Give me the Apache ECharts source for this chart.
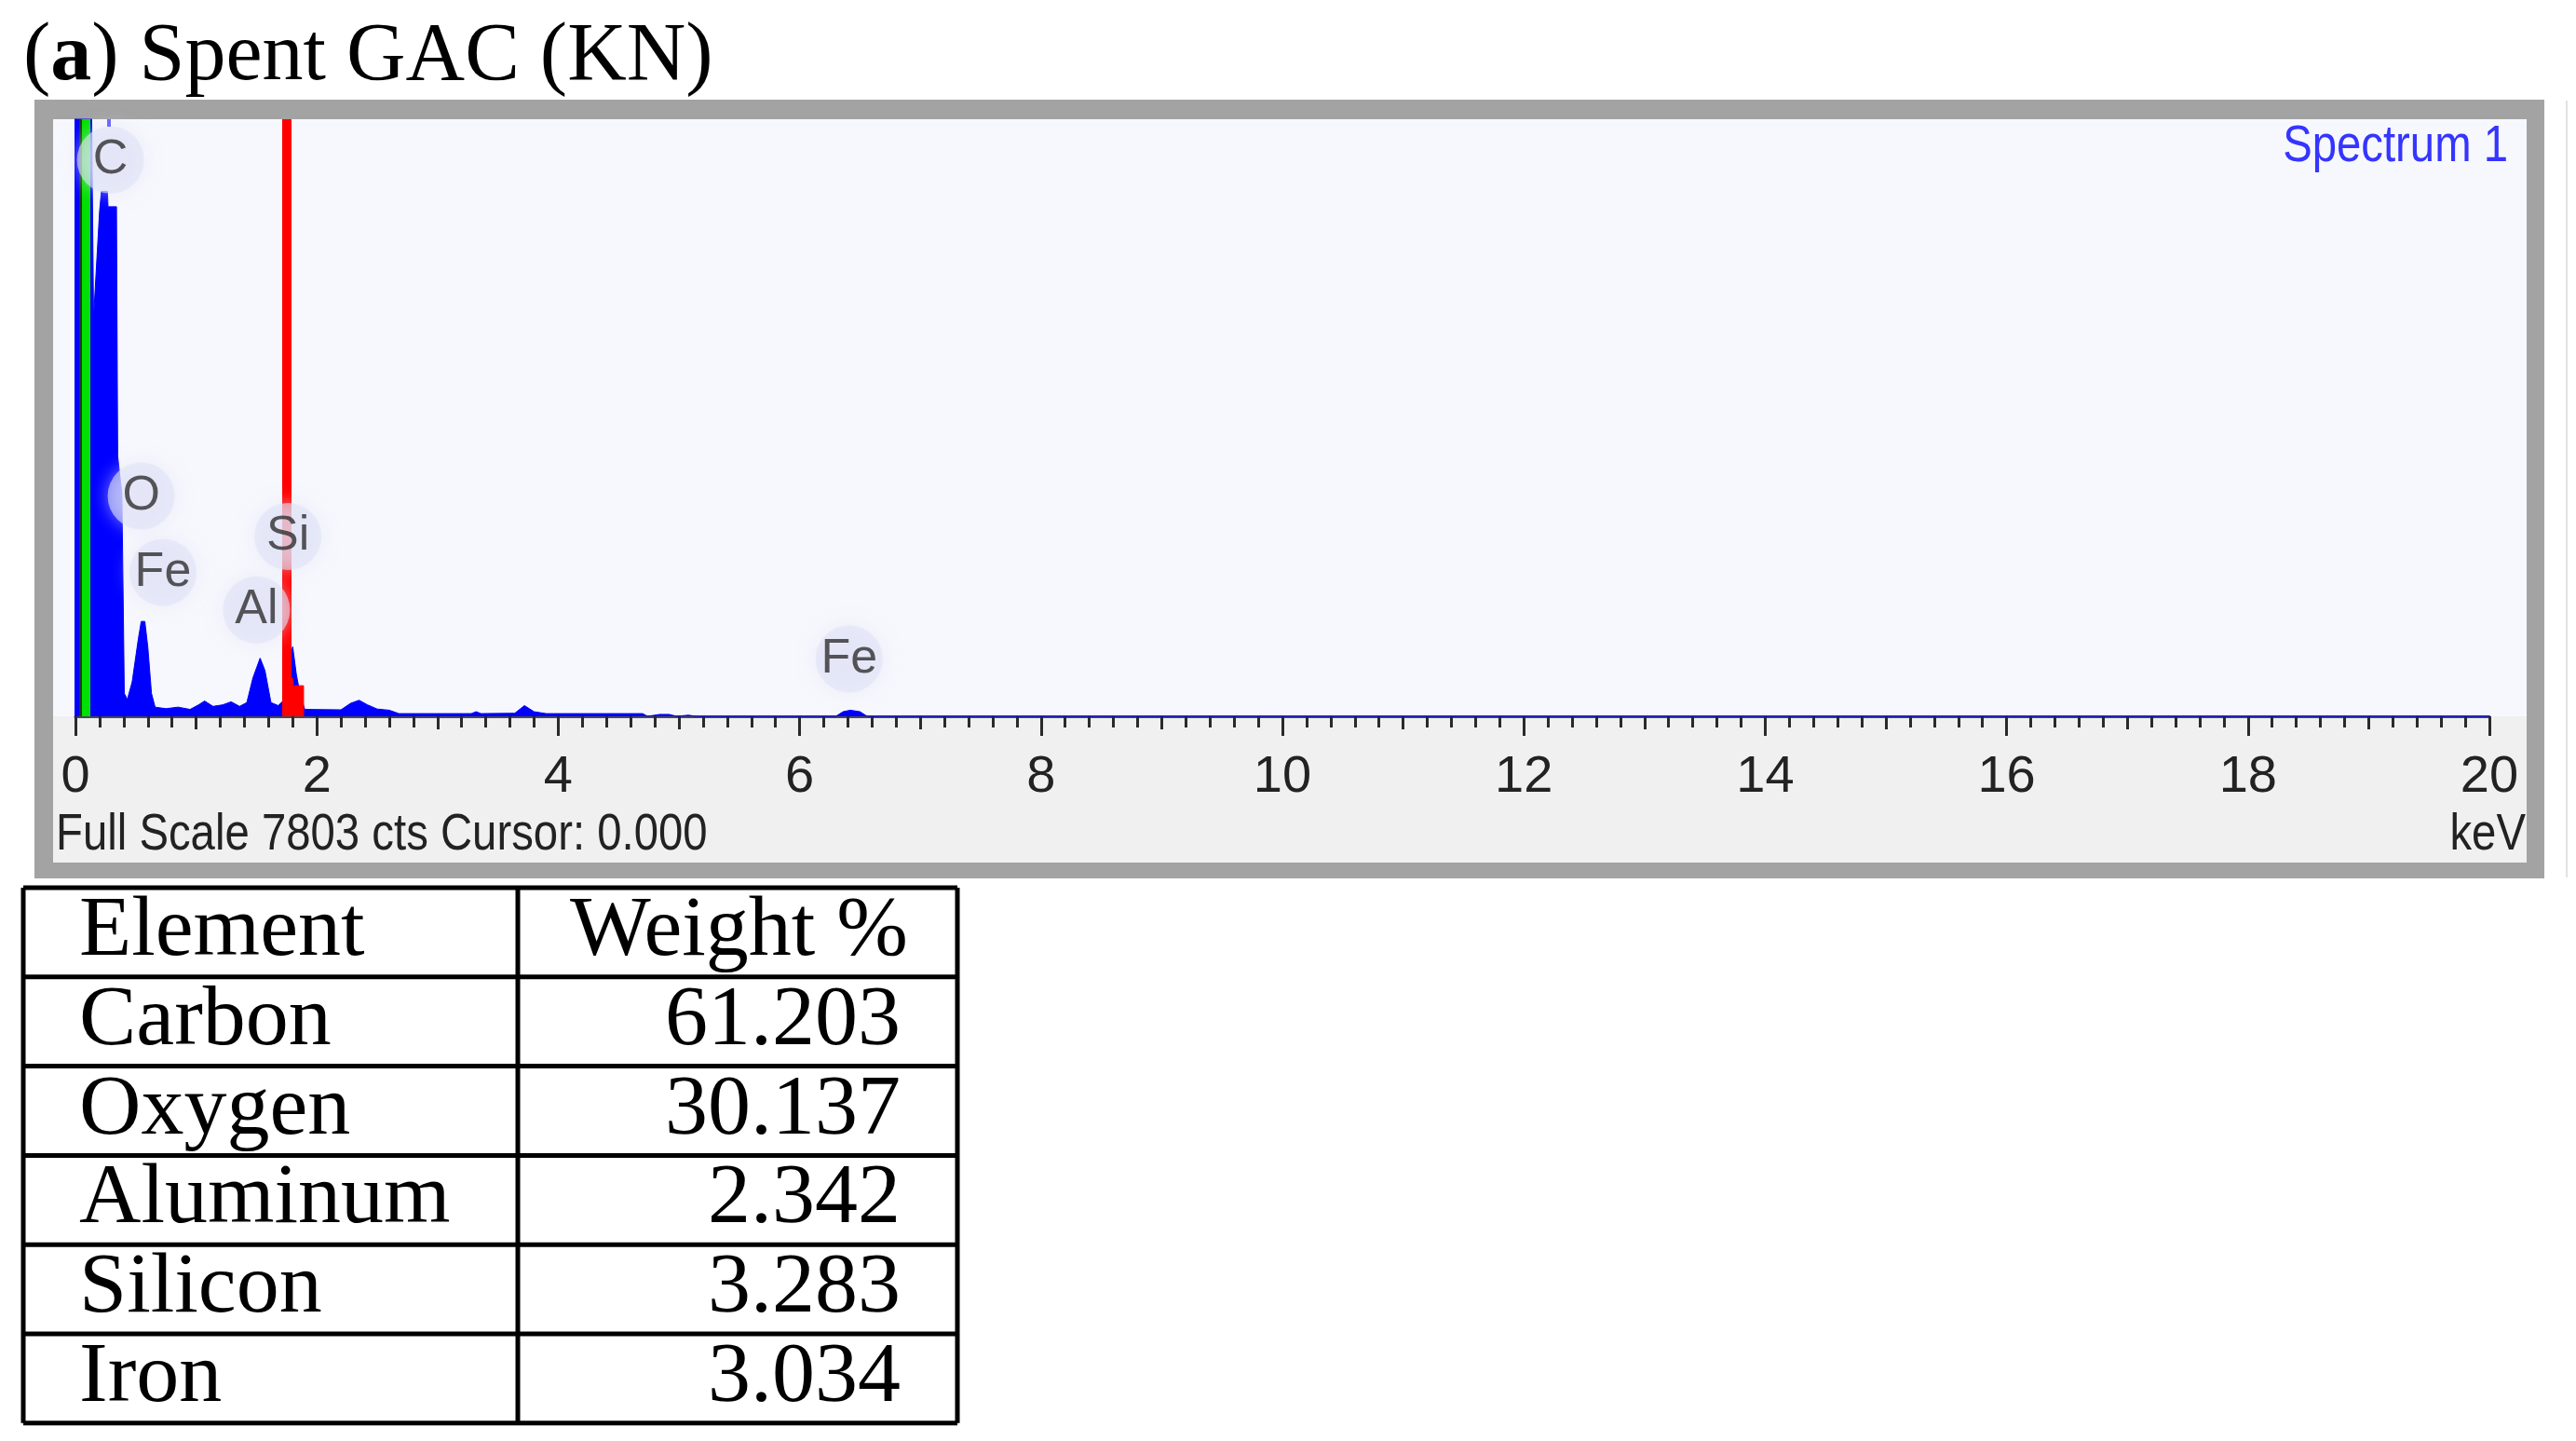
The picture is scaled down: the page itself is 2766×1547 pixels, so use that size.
<!DOCTYPE html>
<html>
<head>
<meta charset="utf-8">
<script src="https://cdn.jsdelivr.net/npm/echarts@6/dist/echarts.min.js"></script>
<style>
  html, body { margin: 0; padding: 0; background: #fff; }
  #chart { width: 2766px; height: 1547px; }
</style>
</head>
<body>
<div id="chart"></div>
<script>
// EDS spectrum: [keV, counts]
const spectrumPoints = [
  [-0.075, 0], [-0.07, 250], [-0.05, 450], [-0.04, 7803], [0.135, 7803], [0.15, 5200],
  [0.2, 6600], [0.215, 6860], [0.265, 6860], [0.27, 6660], [0.34, 6660], [0.35, 3400],
  [0.385, 2900], [0.405, 300], [0.43, 220], [0.47, 450], [0.52, 1000], [0.545, 1240],
  [0.575, 1240], [0.6, 900], [0.63, 300], [0.66, 120], [0.75, 100], [0.85, 120],
  [0.95, 90], [1.02, 150], [1.07, 200], [1.14, 130], [1.22, 150], [1.29, 190],
  [1.36, 130], [1.42, 180], [1.47, 500], [1.53, 760], [1.57, 600], [1.62, 180],
  [1.68, 140], [1.72, 200], [1.77, 700], [1.8, 910], [1.83, 550], [1.86, 300],
  [1.9, 90], [2.2, 85], [2.28, 170], [2.35, 210], [2.42, 150], [2.5, 95],
  [2.6, 80], [2.68, 35], [3.28, 35], [3.32, 60], [3.36, 35], [3.64, 40],
  [3.72, 140], [3.8, 60], [3.9, 35], [4.7, 35], [4.74, 0], [4.84, 25],
  [4.92, 25], [4.98, 0], [5.08, 15], [5.14, 0], [6.3, 0], [6.36, 60],
  [6.42, 80], [6.5, 60], [6.56, 0], [20, 0]
];
// red window under the Si line
const siWindow = [[1.72, 0], [1.72, 500], [1.8, 500], [1.8, 400], [1.89, 400], [1.89, 0]];

const peakNames = ['C', 'O', 'Fe', 'Al', 'Si', 'Fe'];
const peakKeV = [0.29, 0.545, 0.725, 1.5, 1.76, 6.41];
const peakCounts = [7270, 2880, 1880, 1390, 2350, 750];

const xTicks = [0, 2, 4, 6, 8, 10, 12, 14, 16, 18, 20];
const fullScale = 7803;
const cursorKeV = 0.09;
const markerKeV = 1.75;

const tableHeader = ['Element', 'Weight %'];
const elements = ['Carbon', 'Oxygen', 'Aluminum', 'Silicon', 'Iron'];
const weights = ['61.203', '30.137', '2.342', '3.283', '3.034'];

const narrow = "'Liberation Sans Narrow', 'Arial Narrow', 'Liberation Sans', sans-serif";
const serif = "'Liberation Serif', 'Times New Roman', serif";

// table graphics
const tLeft = 25, tMid = 556, tRight = 1028, tTop = 953, rowH = 95.8;
const tableGraphics = [];
const rows = [tableHeader].concat(elements.map((e, i) => [e, weights[i]]));
rows.forEach((r, i) => {
  const cy = tTop + rowH * (i + 0.5);
  tableGraphics.push({
    type: 'text', x: 85, y: cy, z: 20,
    style: { text: r[0], font: '92px ' + serif, fill: '#000', textVerticalAlign: 'middle' }
  });
  tableGraphics.push({
    type: 'text', x: i === 0 ? 975 : 967, y: cy, z: 20,
    style: { text: r[1], font: '92px ' + serif, fill: '#000', textAlign: 'right', textVerticalAlign: 'middle' }
  });
});
for (let i = 0; i <= rows.length; i++) {
  const y = tTop + rowH * i;
  tableGraphics.push({ type: 'line', z: 20, shape: { x1: tLeft, y1: y, x2: tRight, y2: y }, style: { stroke: '#000', lineWidth: 5 } });
}
[tLeft, tMid, tRight].forEach(x => {
  tableGraphics.push({ type: 'line', z: 20, shape: { x1: x, y1: tTop, x2: x, y2: tTop + rowH * rows.length }, style: { stroke: '#000', lineWidth: 5 } });
});

const chart = echarts.init(document.getElementById('chart'));
chart.setOption({
  animation: false,
  backgroundColor: '#ffffff',
  graphic: [
    // instrument window frame
    { type: 'rect', z: -10, shape: { x: 37, y: 107, width: 2695, height: 836 }, style: { fill: '#a3a3a3' } },
    { type: 'rect', z: -9, shape: { x: 57, y: 128, width: 2656, height: 798 }, style: { fill: '#f0f0f0' } },
    { type: 'rect', z: -8, shape: { x: 57, y: 128, width: 2656, height: 641 }, style: { fill: '#f7f8fd' } },
    { type: 'line', z: -8, shape: { x1: 2756, y1: 108, x2: 2756, y2: 942 }, style: { stroke: '#e2e2e2', lineWidth: 2 } },
    // small blue marker above the C line
    { type: 'rect', z: 6, shape: { x: 115, y: 128, width: 4, height: 8 }, style: { fill: '#6b6bff' } },
    {
      type: 'text', z: 20, x: 25, y: 62,
      style: {
        text: '{p|(}{b|a}{p|) Spent GAC (KN)}',
        textVerticalAlign: 'middle',
        rich: {
          p: { fontFamily: serif, fontSize: 88, color: '#000' },
          b: { fontFamily: serif, fontSize: 88, fontWeight: 'bold', color: '#000' }
        }
      }
    },
    {
      type: 'text', z: 20, x: 2693, y: 158, scaleX: 0.86,
      style: { text: 'Spectrum 1', font: '55px ' + narrow, fill: '#3535ff', textAlign: 'right', textVerticalAlign: 'middle' }
    },
    {
      type: 'text', z: 20, x: 60, y: 897, scaleX: 0.845,
      style: { text: 'Full Scale ' + fullScale + ' cts Cursor: 0.000', font: '56px ' + narrow, fill: '#222', textVerticalAlign: 'middle' }
    },
    {
      type: 'text', z: 20, x: 2712, y: 897, scaleX: 0.845,
      style: { text: 'keV', font: '56px ' + narrow, fill: '#222', textAlign: 'right', textVerticalAlign: 'middle' }
    }
  ].concat(tableGraphics),
  grid: { left: 81, right: 93, top: 128, bottom: 778 },
  xAxis: [
    {
      type: 'value', min: 0, max: 20, interval: 1,
      axisLine: { show: true, onZero: false, lineStyle: { color: '#4a4a4a', width: 3 } },
      axisTick: { show: true, length: 14, lineStyle: { color: '#2a2a2a', width: 3 } },
      minorTick: { show: true, splitNumber: 5, length: 12, lineStyle: { color: '#2a2a2a', width: 3 } },
      splitLine: { show: false },
      axisLabel: {
        margin: 38, fontSize: 56, fontFamily: narrow, color: '#222',
        formatter: v => (xTicks.indexOf(v) >= 0 ? String(v) : '')
      }
    },
    {
      type: 'value', min: 0, max: 20, interval: 2, position: 'bottom',
      axisLine: { show: false },
      axisTick: { show: true, length: 21, lineStyle: { color: '#2a2a2a', width: 3 } },
      axisLabel: { show: false },
      splitLine: { show: false }
    }
  ],
  yAxis: { type: 'value', min: 0, max: fullScale, show: false, splitLine: { show: false } },
  series: [
    {
      type: 'line', xAxisIndex: 0, data: spectrumPoints, showSymbol: false, clip: false, z: 3,
      lineStyle: { color: '#0000ff', width: 1 },
      areaStyle: { color: '#0000ff', opacity: 1 }
    },
    {
      type: 'line', xAxisIndex: 0, data: siWindow, showSymbol: false, z: 4,
      lineStyle: { color: '#ff0000', width: 1 },
      areaStyle: { color: '#ff0000', opacity: 1 },
      markLine: {
        silent: true, symbol: 'none', label: { show: false },
        data: [
          { xAxis: markerKeV, lineStyle: { color: '#ff0000', width: 10, type: 'solid' } },
          { xAxis: 0.04, lineStyle: { color: '#1f3a1f', width: 3, type: 'solid' } },
          { xAxis: cursorKeV, lineStyle: { color: '#00e000', width: 9, type: 'solid' } }
        ]
      }
    },
    {
      type: 'scatter', xAxisIndex: 0, z: 5, symbol: 'circle', symbolSize: 72,
      data: peakNames.map((n, i) => ({ name: n, value: [peakKeV[i], peakCounts[i]] })),
      itemStyle: { color: 'rgba(224,226,246,0.75)', shadowBlur: 18, shadowColor: 'rgba(224,226,246,0.9)' },
      label: { show: true, position: 'inside', formatter: '{b}', fontSize: 52, fontFamily: narrow, color: '#2e2e2e' }
    }
  ]
});
</script>
</body>
</html>
